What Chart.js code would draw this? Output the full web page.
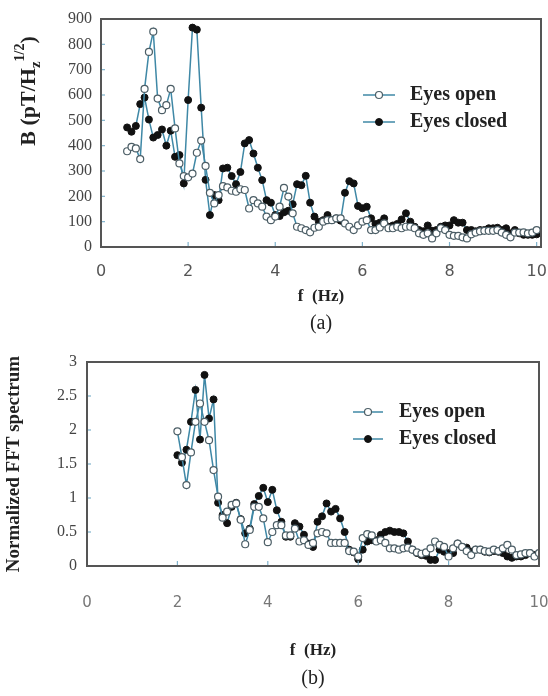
<!DOCTYPE html>
<html>
<head>
<meta charset="utf-8">
<script src="https://cdn.jsdelivr.net/npm/chart.js@4/dist/chart.umd.min.js"></script>
<style>
  body { margin: 0; background: #fff; }
  canvas { display: block; }
</style>
</head>
<body>
<canvas id="graphA" width="548" height="340"></canvas>
<canvas id="graphB" width="548" height="356"></canvas>
<script>
'use strict';

// (a) 磁場スペクトル B [pT/Hz^1/2]
let freqA = [
    0.6, 0.7, 0.8, 0.9,
    1.0, 1.1, 1.2, 1.3, 1.4, 1.5, 1.6, 1.7, 1.8, 1.9,
    2.0, 2.1, 2.2, 2.3, 2.4, 2.5, 2.6, 2.7, 2.8, 2.9,
    3.0, 3.1, 3.2, 3.3, 3.4, 3.5, 3.6, 3.7, 3.8, 3.9,
    4.0, 4.1, 4.2, 4.3, 4.4, 4.5, 4.6, 4.7, 4.8, 4.9,
    5.0, 5.1, 5.2, 5.3, 5.4, 5.5, 5.6, 5.7, 5.8, 5.9,
    6.0, 6.1, 6.2, 6.3, 6.4, 6.5, 6.6, 6.7, 6.8, 6.9,
    7.0, 7.1, 7.2, 7.3, 7.4, 7.5, 7.6, 7.7, 7.8, 7.9,
    8.0, 8.1, 8.2, 8.3, 8.4, 8.5, 8.6, 8.7, 8.8, 8.9,
    9.0, 9.1, 9.2, 9.3, 9.4, 9.5, 9.6, 9.7, 9.8, 9.9, 10.0
];
let openA = [
    378, 395, 389, 347,
    624, 770, 850, 586, 540, 560, 624, 468, 330, 280,
    275, 290, 372, 420, 320, 214, 172, 205, 240, 235,
    222, 218, 228, 225, 152, 185, 172, 159, 120, 106,
    120, 159, 233, 199, 133, 80, 74, 67, 58, 76,
    80, 100, 106, 106, 113, 113, 93, 80, 67, 85,
    100, 106, 67, 67, 77, 93, 74, 74, 80, 74,
    80, 80, 74, 54, 48, 54, 34, 54, 74, 67,
    48, 44, 44, 38, 34, 50, 57, 62, 64, 64,
    64, 67, 57, 48, 38, 57, 57, 58, 54, 57, 67
];
let closedA = [
    472, 455, 478, 564,
    590, 503, 432, 442, 464, 400, 459, 356, 363, 251,
    580, 866, 858, 550, 265, 126, 205, 185, 310, 313,
    280, 248, 296, 409, 422, 369, 313, 264, 185, 175,
    126, 122, 137, 143, 169, 248, 244, 281, 175, 120,
    100, 106, 126, 106, 113, 104, 214, 260, 251, 162,
    153, 159, 113, 91, 96, 113, 80, 85, 91, 109,
    133, 100, 80, 67, 62, 85, 64, 67, 80, 85,
    85, 106, 96, 96, 67, 67, 62, 67, 67, 74,
    74, 76, 67, 74, 54, 67, 54, 48, 48, 48, 50
];

// (b) 正規化FFTスペクトル
let freqB = [
    2.0, 2.1, 2.2, 2.3, 2.4, 2.5, 2.6, 2.7, 2.8, 2.9,
    3.0, 3.1, 3.2, 3.3, 3.4, 3.5, 3.6, 3.7, 3.8, 3.9,
    4.0, 4.1, 4.2, 4.3, 4.4, 4.5, 4.6, 4.7, 4.8, 4.9,
    5.0, 5.1, 5.2, 5.3, 5.4, 5.5, 5.6, 5.7, 5.8, 5.9,
    6.0, 6.1, 6.2, 6.3, 6.4, 6.5, 6.6, 6.7, 6.8, 6.9,
    7.0, 7.1, 7.2, 7.3, 7.4, 7.5, 7.6, 7.7, 7.8, 7.9,
    8.0, 8.1, 8.2, 8.3, 8.4, 8.5, 8.6, 8.7, 8.8, 8.9,
    9.0, 9.1, 9.2, 9.3, 9.4, 9.5, 9.6, 9.7, 9.8, 9.9, 10.0
];
let openB = [
    1.98, 1.60, 1.19, 1.67, 2.12, 2.39, 2.12, 1.85, 1.41, 1.02,
    0.71, 0.80, 0.90, 0.92, 0.68, 0.32, 0.53, 0.87, 0.87, 0.70,
    0.35, 0.50, 0.60, 0.60, 0.45, 0.45, 0.55, 0.36, 0.38, 0.31,
    0.34, 0.48, 0.50, 0.48, 0.34, 0.34, 0.34, 0.34, 0.22, 0.21,
    0.14, 0.41, 0.47, 0.45, 0.36, 0.38, 0.34, 0.26, 0.26, 0.24,
    0.26, 0.27, 0.24, 0.20, 0.18, 0.20, 0.26, 0.36, 0.31, 0.28,
    0.14, 0.26, 0.33, 0.28, 0.22, 0.16, 0.24, 0.24, 0.22, 0.21,
    0.24, 0.22, 0.26, 0.31, 0.24, 0.16, 0.17, 0.19, 0.19, 0.14, 0.19
];
let closedB = [
    1.63, 1.52, 1.71, 2.12, 2.59, 1.86, 2.81, 2.17, 2.45, 0.93,
    0.75, 0.63, 0.87, 0.93, 0.69, 0.48, 0.55, 0.91, 1.03, 1.15,
    0.94, 1.12, 0.82, 0.65, 0.43, 0.43, 0.63, 0.58, 0.46, 0.33,
    0.28, 0.65, 0.73, 0.92, 0.80, 0.84, 0.70, 0.50, 0.24, 0.20,
    0.10, 0.24, 0.36, 0.38, 0.38, 0.46, 0.50, 0.52, 0.50, 0.50,
    0.48, 0.36, 0.24, 0.19, 0.16, 0.15, 0.09, 0.09, 0.24, 0.21,
    0.19, 0.19, 0.33, 0.28, 0.27, 0.21, 0.24, 0.24, 0.21, 0.20,
    0.22, 0.21, 0.19, 0.14, 0.12, 0.14, 0.14, 0.16, 0.19, 0.16, 0.16
];

// 目盛り
let xTicks = [0, 2, 4, 6, 8, 10];
let yTicksA = [0, 100, 200, 300, 400, 500, 600, 700, 800, 900];
let yTicksB = [0, 0.5, 1, 1.5, 2, 2.5, 3];

const SERIF = "'Liberation Serif', 'Times New Roman', serif";
const LINE_COLOR = '#3f88a6';

function toPoints(xs, ys) {
    return xs.map((x, i) => ({ x: x, y: ys[i] }));
}

function makeDatasets(xs, open, closed) {
    return [{
        label: 'Eyes open',
        data: toPoints(xs, open),
        borderColor: LINE_COLOR,
        borderWidth: 1.5,
        pointRadius: 3.5,
        pointBorderWidth: 1.2,
        pointBackgroundColor: '#fff',
        pointBorderColor: '#4c5e66',
        tension: 0
    }, {
        label: 'Eyes closed',
        data: toPoints(xs, closed),
        borderColor: LINE_COLOR,
        borderWidth: 1.5,
        pointRadius: 3.5,
        pointBorderWidth: 1,
        pointBackgroundColor: '#111',
        pointBorderColor: '#111',
        tension: 0
    }];
}

// ラベルのはみ出し分で描画領域が縮まないようにする
function fixSize(s, key, size) {
    s[key] = size;
    s.paddingLeft = 0;
    s.paddingRight = 0;
    s.paddingTop = 0;
    s.paddingBottom = 0;
}

// 枠線と内向きの目盛り線
const framePlugin = {
    id: 'frame',
    afterDraw(chart) {
        const ctx = chart.ctx;
        const a = chart.chartArea;
        const x = chart.scales.x;
        const y = chart.scales.y;
        ctx.save();
        ctx.strokeStyle = '#7fb2cc';
        ctx.lineWidth = 1.2;
        x.ticks.forEach(t => {
            const px = x.getPixelForValue(t.value);
            ctx.beginPath();
            ctx.moveTo(px, a.bottom);
            ctx.lineTo(px, a.bottom - 5);
            ctx.stroke();
        });
        y.ticks.forEach(t => {
            const py = y.getPixelForValue(t.value);
            ctx.beginPath();
            ctx.moveTo(a.left, py);
            ctx.lineTo(a.left + 4, py);
            ctx.stroke();
        });
        ctx.strokeStyle = '#555';
        ctx.lineWidth = 2;
        ctx.strokeRect(a.left, a.top, a.right - a.left, a.bottom - a.top);
        ctx.restore();
    }
};

// 線＋マーカーの凡例
const keyPlugin = {
    id: 'lineKey',
    afterDraw(chart, args, opts) {
        const ctx = chart.ctx;
        chart.data.datasets.forEach((ds, i) => {
            const y = opts.y + i * opts.rowHeight;
            ctx.save();
            ctx.strokeStyle = ds.borderColor;
            ctx.lineWidth = ds.borderWidth;
            ctx.beginPath();
            ctx.moveTo(opts.x, y);
            ctx.lineTo(opts.x + opts.width, y);
            ctx.stroke();
            ctx.beginPath();
            ctx.arc(opts.x + opts.width / 2, y, ds.pointRadius, 0, Math.PI * 2);
            ctx.fillStyle = ds.pointBackgroundColor;
            ctx.fill();
            ctx.lineWidth = ds.pointBorderWidth;
            ctx.strokeStyle = ds.pointBorderColor;
            ctx.stroke();
            ctx.font = 'bold 20px ' + SERIF;
            ctx.fillStyle = '#222';
            ctx.textBaseline = 'middle';
            ctx.fillText(ds.label, opts.x + opts.width + opts.gap, y);
            ctx.restore();
        });
    }
};

// 添字つきの縦軸タイトル
const unitTitlePlugin = {
    id: 'unitTitle',
    afterDraw(chart, args, opts) {
        if (!opts.parts) return;
        const ctx = chart.ctx;
        ctx.save();
        ctx.translate(opts.x, opts.y);
        ctx.rotate(-Math.PI / 2);
        ctx.fillStyle = '#222';
        ctx.textBaseline = 'alphabetic';
        let total = 0;
        opts.parts.forEach(p => {
            ctx.font = 'bold ' + p.size + 'px ' + SERIF;
            total += ctx.measureText(p.text).width;
        });
        let cx = -total / 2;
        opts.parts.forEach(p => {
            ctx.font = 'bold ' + p.size + 'px ' + SERIF;
            ctx.fillText(p.text, cx, p.shift);
            cx += ctx.measureText(p.text).width;
        });
        ctx.restore();
    }
};

function NewGraph(id, opt) {
    const context = document.querySelector(id).getContext('2d');
    return new Chart(context, {
        type: 'line',
        data: { datasets: makeDatasets(opt.xs, opt.open, opt.closed) },
        plugins: [framePlugin, keyPlugin, unitTitlePlugin],
        options: {
            responsive: false,
            animation: false,
            layout: { padding: opt.padding },
            plugins: {
                legend: { display: false },
                tooltip: { enabled: false },
                title: {
                    display: true,
                    position: 'bottom',
                    fullSize: false,
                    text: opt.caption,
                    color: '#222',
                    font: { family: SERIF, size: 20, weight: 'normal' },
                    padding: opt.captionPad
                },
                lineKey: opt.key,
                unitTitle: opt.unitTitle || {}
            },
            scales: {
                x: {
                    type: 'linear',
                    min: 0,
                    max: opt.xMax,
                    grid: { display: false, drawTicks: false },
                    border: { display: false },
                    afterBuildTicks: s => { s.ticks = xTicks.map(v => ({ value: v })); },
                    afterFit: s => { fixSize(s, 'height', opt.xHeight); },
                    ticks: {
                        color: opt.xTickColor,
                        font: { family: "'DejaVu Sans', sans-serif", size: opt.xTickSize },
                        padding: opt.xTickPad,
                        maxRotation: 0,
                        callback: v => String(v)
                    },
                    title: {
                        display: true,
                        text: 'f  (Hz)',
                        color: '#222',
                        font: { family: SERIF, size: 17, weight: 'bold' },
                        padding: { top: 0, bottom: 0 }
                    }
                },
                y: {
                    min: 0,
                    max: opt.yMax,
                    grid: { display: false, drawTicks: false },
                    border: { display: false },
                    afterBuildTicks: s => { s.ticks = opt.yTicks.map(v => ({ value: v })); },
                    afterFit: s => { fixSize(s, 'width', opt.yWidth); },
                    ticks: {
                        color: '#444',
                        font: { family: SERIF, size: 16 },
                        padding: opt.yTickPad,
                        callback: v => String(v)
                    },
                    title: opt.yTitle
                }
            }
        }
    });
}

NewGraph('#graphA', {
    xs: freqA, open: openA, closed: closedA,
    xMax: 10.1, yMax: 900, yTicks: yTicksA,
    padding: { left: 0, top: 19, right: 7, bottom: 0 },
    yWidth: 101, xHeight: 60,
    xTickColor: '#555', xTickSize: 16, xTickPad: 15, yTickPad: 9,
    caption: '(a)', captionPad: { top: 4.5, bottom: 4.5 },
    key: { x: 363, y: 95, width: 32, gap: 15, rowHeight: 27 },
    unitTitle: {
        x: 35, y: 91,
        parts: [
            { text: 'B (pT/H', size: 22, shift: 0 },
            { text: 'z', size: 15, shift: 5 },
            { text: '1/2', size: 14, shift: -11 },
            { text: ')', size: 22, shift: 0 }
        ]
    },
    yTitle: { display: false }
});

NewGraph('#graphB', {
    xs: freqB, open: openB, closed: closedB,
    xMax: 10, yMax: 3, yTicks: yTicksB,
    padding: { left: 0, top: 22, right: 9, bottom: 0 },
    yWidth: 87, xHeight: 95,
    xTickColor: '#777', xTickSize: 15, xTickPad: 28, yTickPad: 10,
    caption: '(b)', captionPad: { top: 5.5, bottom: 5.5 },
    key: { x: 353, y: 72, width: 30, gap: 16, rowHeight: 27 },
    yTitle: {
        display: true,
        text: 'Normalized FFT spectrum',
        color: '#222',
        font: { family: SERIF, size: 19, weight: 'bold' },
        padding: { top: 2.5, bottom: 0 }
    }
});
</script>
</body>
</html>
